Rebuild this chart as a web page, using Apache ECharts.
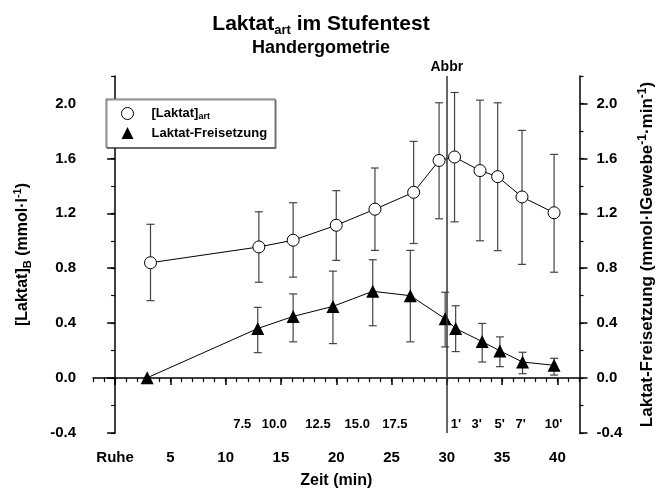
<!DOCTYPE html>
<html>
<head>
<meta charset="utf-8">
<script src="https://cdn.jsdelivr.net/npm/echarts@6/dist/echarts.min.js"></script>
<style>
    html, body { margin: 0; padding: 0; background: #fff; }
    #diagram { width: 664px; height: 500px; }
</style>
</head>
<body>
<div id="diagram"></div>
<script>
// [Laktat]art (circles)
const artTime = [3.2, 13.0, 16.1, 20.0, 23.5, 27.0, 29.3, 30.7, 33.0, 34.6, 36.8, 39.7];
const artValue = [0.84, 0.955, 1.004, 1.113, 1.23, 1.353, 1.585, 1.61, 1.511, 1.467, 1.319, 1.204];
const artHigh = [1.12, 1.211, 1.277, 1.365, 1.53, 1.724, 2.005, 2.08, 2.024, 2.005, 1.804, 1.629];
const artLow = [0.564, 0.698, 0.735, 0.857, 0.93, 0.98, 1.16, 1.138, 1.0, 0.928, 0.828, 0.771];

// Laktat-Freisetzung (triangles), first point without error bar
const relTime = [2.9, 12.9, 16.1, 19.7, 23.3, 26.7, 29.85, 30.8, 33.2, 34.8, 36.85, 39.7];
const relValue = [0.002, 0.361, 0.449, 0.522, 0.632, 0.60, 0.432, 0.361, 0.266, 0.198, 0.117, 0.093];
const relHigh = [null, 0.515, 0.613, 0.779, 0.862, 0.93, 0.625, 0.527, 0.398, 0.30, 0.188, 0.144];
const relLow = [null, 0.185, 0.264, 0.251, 0.381, 0.264, 0.227, 0.193, 0.117, 0.083, 0.032, 0.022];

// labels inside the plot (Stufen in W, Nachbelastung in min)
const stageLabels = ['7.5', '10.0', '12.5', '15.0', '17.5'];
const stageX = [11.5, 14.4, 18.35, 21.9, 25.3];
const recoveryLabels = ["1'", "3'", "5'", "7'", "10'"];
const recoveryX = [30.83, 32.7, 34.77, 36.67, 39.65];
const labelLevel = -0.335;

const xTicks = [0, 5, 10, 15, 20, 25, 30, 35, 40];
const yTicks = [-0.4, 0, 0.4, 0.8, 1.2, 1.6, 2.0];
const abbrTime = 30;

const font = 'Liberation Sans, Arial, Helvetica, sans-serif';
let myChart = echarts.init(document.getElementById('diagram'));

function errorBars(params, api) {
    let x = api.value(0);
    let lo = api.coord([x, api.value(1)]);
    let hi = api.coord([x, api.value(2)]);
    let w = 4;
    let style = {stroke: '#444', lineWidth: 1.2, fill: null};
    return {
        type: 'group',
        children: [
            {type: 'line', shape: {x1: lo[0], y1: lo[1], x2: hi[0], y2: hi[1]}, style: style},
            {type: 'line', shape: {x1: hi[0] - w, y1: hi[1], x2: hi[0] + w, y2: hi[1]}, style: style},
            {type: 'line', shape: {x1: lo[0] - w, y1: lo[1], x2: lo[0] + w, y2: lo[1]}, style: style}
        ]
    };
}

function barData(t, lo, hi) {
    let out = [];
    for (let i = 0; i < t.length; i++)
        if (lo[i] !== null) out.push([t[i], lo[i], hi[i]]);
    return out;
}

function nameRich(size) {
    return {
        b: {fontSize: size, fontWeight: 'bold', color: '#000', lineHeight: size + 5, fontFamily: font},
        sub: {fontSize: size - 5, fontWeight: 'bold', color: '#000', lineHeight: size - 5, verticalAlign: 'bottom', fontFamily: font},
        sup: {fontSize: size - 5, fontWeight: 'bold', color: '#000', lineHeight: size - 5, verticalAlign: 'top', fontFamily: font}
    };
}

const axisLabelStyle = {fontSize: 15, fontWeight: 'bold', color: '#000', fontFamily: font};

function yMain(pos, name, gap, size) {
    return {
        type: 'value', min: -0.4, max: 2.2, position: pos,
        axisLine: {show: true, lineStyle: {color: '#000', width: 1.5}},
        axisTick: {show: true, customValues: yTicks, length: 8, lineStyle: {color: '#000', width: 1.5}},
        axisLabel: Object.assign({customValues: yTicks, margin: 17, formatter: v => v.toFixed(1)}, axisLabelStyle),
        splitLine: {show: false},
        name: name, nameLocation: 'middle', nameGap: gap, nameRotate: 90,
        nameTextStyle: {rich: nameRich(size)}
    };
}

function yMinor(pos) {
    return {
        type: 'value', min: -0.4, max: 2.2, interval: 0.2, position: pos,
        axisLine: {show: false},
        axisTick: {show: true, length: 4, lineStyle: {color: '#000', width: 1.2}},
        axisLabel: {show: false},
        splitLine: {show: false}
    };
}

myChart.setOption({
    animation: false,
    textStyle: {fontFamily: font},
    title: {
        text: '{t|Laktat}{s|art}{t| im Stufentest}',
        subtext: 'Handergometrie',
        left: 316, top: 7, textAlign: 'center', itemGap: 4,
        textStyle: {
            rich: {
                t: {fontSize: 21, fontWeight: 'bold', color: '#000', lineHeight: 25, fontFamily: font},
                s: {fontSize: 13, fontWeight: 'bold', color: '#000', lineHeight: 12, verticalAlign: 'bottom', fontFamily: font}
            }
        },
        subtextStyle: {fontSize: 18, fontWeight: 'bold', color: '#000', fontFamily: font}
    },
    legend: {
        orient: 'vertical', left: 106, top: 99,
        padding: [8, 8, 8, 15], itemGap: 5, itemWidth: 12, itemHeight: 12,
        borderColor: '#666', borderWidth: 1, backgroundColor: '#fff',
        shadowColor: 'rgba(0,0,0,0.45)', shadowOffsetX: 1, shadowOffsetY: 1, shadowBlur: 0,
        data: [
            {name: 'Laktat art', icon: 'circle', itemStyle: {color: '#fff', borderColor: '#000', borderWidth: 1}},
            {name: 'Laktat-Freisetzung', icon: 'triangle', itemStyle: {color: '#000', borderWidth: 0}}
        ],
        formatter: n => n === 'Laktat art' ? '{b|[Laktat]}{sub|art}' : '{b|' + n + '}',
        textStyle: {
            padding: [0, 0, 0, 13],
            rich: {
                b: {fontSize: 13, fontWeight: 'bold', color: '#000', lineHeight: 16, fontFamily: font},
                sub: {fontSize: 9, fontWeight: 'bold', color: '#000', lineHeight: 9, verticalAlign: 'bottom', fontFamily: font}
            }
        }
    },
    grid: {left: 93, right: 77, top: 76, bottom: 67, containLabel: false},
    xAxis: [{
        type: 'value', min: -2, max: 42, position: 'bottom',
        axisLine: {show: true, lineStyle: {color: '#000', width: 1.5}},
        axisTick: {show: true, customValues: xTicks, length: 7, lineStyle: {color: '#000', width: 1.5}},
        axisLabel: Object.assign({customValues: xTicks, margin: 17, formatter: v => v === 0 ? 'Ruhe' : String(v)}, axisLabelStyle),
        splitLine: {show: false},
        name: 'Zeit (min)', nameLocation: 'middle', nameGap: 40,
        nameTextStyle: {fontSize: 16, fontWeight: 'bold', color: '#000', fontFamily: font}
    }, {
        type: 'value', min: -2, max: 42, interval: 1, position: 'bottom',
        axisLine: {show: false},
        axisTick: {show: true, length: 4, lineStyle: {color: '#000', width: 1.2}},
        axisLabel: {show: false},
        splitLine: {show: false}
    }],
    yAxis: [
        yMain('left', '{b|[Laktat]}{sub|B}{b| (mmol·l}{sup|-1}{b|)}', 60, 16),
        yMinor('left'),
        yMain('right', '{b|Laktat-Freisetzung (mmol·lGewebe}{sup|-1}{b|·min}{sup|-1}{b|)}', 57, 17),
        yMinor('right')
    ],
    series: [{
        type: 'custom', name: 'artErr', xAxisIndex: 0, yAxisIndex: 0, z: 1, silent: true,
        renderItem: errorBars,
        encode: {x: 0, y: [1, 2]},
        data: barData(artTime, artLow, artHigh)
    }, {
        type: 'custom', name: 'relErr', xAxisIndex: 0, yAxisIndex: 0, z: 1, silent: true,
        renderItem: errorBars,
        encode: {x: 0, y: [1, 2]},
        data: barData(relTime, relLow, relHigh)
    }, {
        type: 'line', name: 'Laktat art', xAxisIndex: 0, yAxisIndex: 0, z: 3,
        data: artTime.map((t, i) => [t, artValue[i]]),
        symbol: 'circle', symbolSize: 12, showAllSymbol: true,
        itemStyle: {color: '#fff', borderColor: '#000', borderWidth: 1},
        lineStyle: {color: '#000', width: 1},
        markLine: {
            silent: true, symbol: ['none', 'none'],
            lineStyle: {color: '#333', width: 1.5, type: 'solid'},
            label: {show: true, position: 'end', formatter: 'Abbr', distance: 2, fontSize: 14, fontWeight: 'bold', color: '#000', fontFamily: font},
            data: [{xAxis: abbrTime}]
        }
    }, {
        type: 'line', name: 'Laktat-Freisetzung', xAxisIndex: 0, yAxisIndex: 0, z: 3,
        data: relTime.map((t, i) => [t, relValue[i]]),
        symbol: 'triangle', symbolSize: 13, showAllSymbol: true,
        itemStyle: {color: '#000'},
        lineStyle: {color: '#000', width: 1}
    }, {
        type: 'scatter', name: 'labels', xAxisIndex: 0, yAxisIndex: 0, silent: true,
        symbolSize: 1, itemStyle: {color: 'rgba(0,0,0,0)', opacity: 1},
        data: stageX.map((x, i) => [x, labelLevel, stageLabels[i]])
            .concat(recoveryX.map((x, i) => [x, labelLevel, recoveryLabels[i]])),
        label: {show: true, position: 'inside', formatter: p => p.value[2], fontSize: 13, fontWeight: 'bold', color: '#000', fontFamily: font}
    }]
});
</script>
</body>
</html>
